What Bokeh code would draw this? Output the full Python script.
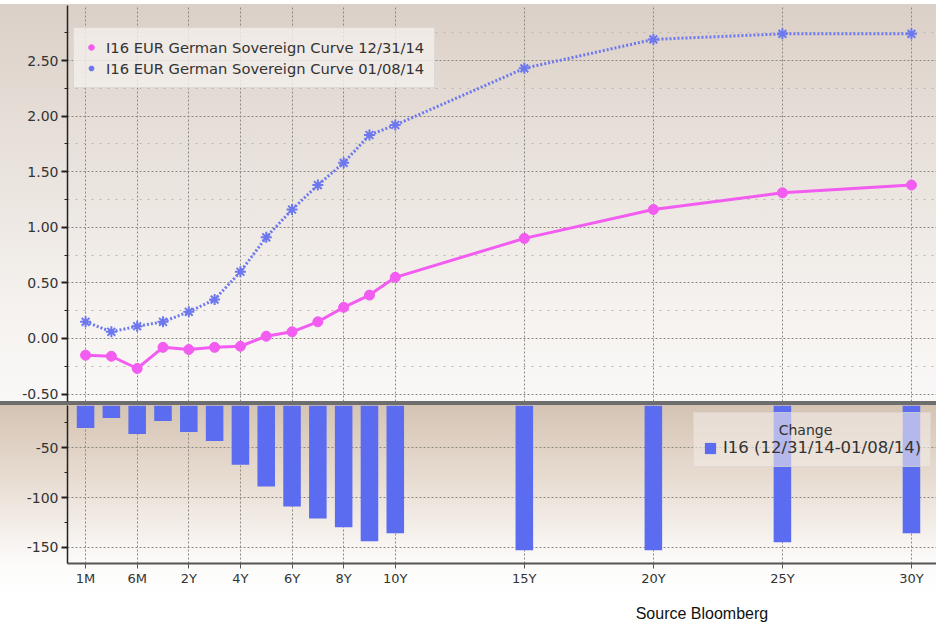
from bokeh.plotting import figure
from bokeh.models import (FixedTicker, NumeralTickFormatter, Range1d, Label,
                          ColumnDataSource)
from bokeh.layouts import column
from bokeh.embed import file_html
from bokeh.resources import INLINE

# ---------------- data ----------------
tenors = ["1M", "3M", "6M", "1Y", "2Y", "3Y", "4Y", "5Y", "6Y", "7Y", "8Y",
          "9Y", "10Y", "15Y", "20Y", "25Y", "30Y"]
curve_123114 = [-0.15, -0.16, -0.27, -0.08, -0.10, -0.08, -0.07, 0.02, 0.06,
                0.15, 0.28, 0.39, 0.55, 0.90, 1.16, 1.31, 1.38]
curve_010814 = [0.15, 0.06, 0.11, 0.15, 0.24, 0.35, 0.60, 0.91, 1.16, 1.38,
                1.58, 1.83, 1.92, 2.43, 2.69, 2.74, 2.74]
change_bp = [-30, -20, -36, -23, -34, -43, -67, -89, -109, -121, -130, -144,
             -136, -153, -153, -145, -136]
tick_labels = ["1M", "6M", "2Y", "4Y", "6Y", "8Y", "10Y", "15Y", "20Y", "25Y", "30Y"]

label_a = "I16 EUR German Sovereign Curve 12/31/14"
label_b = "I16 EUR German Sovereign Curve 01/08/14"
label_c = "I16 (12/31/14-01/08/14)"
change_title = "Change"
source_text = "Source Bloomberg"


# Bloomberg tenor axis: ordinal up to 10Y, then proportional to years
def tenor_pos(t):
    i = tenors.index(t)
    if i <= tenors.index("10Y"):
        return float(i)
    return float(tenors.index("10Y") + int(t[:-1]) - 10)


xpos = [tenor_pos(t) for t in tenors]
tick_pos = [tenor_pos(t) for t in tick_labels]

src = ColumnDataSource(dict(x=xpos, a=curve_123114, b=curve_010814, c=change_bp))

FONT = "DejaVu Sans"
TXT = "#333333"
MAGENTA = "#f25cf0"
BLUE_LINE = "#6e78ee"
BAR = "#5b6cf0"
GRID = "#8c8884"
MINOR = "#bdb7b1"

xr = Range1d(-0.70, 32.97)

# ---------------- top panel ----------------
p1 = figure(width=936, height=405, x_range=xr, y_range=Range1d(-0.567, 2.995),
            output_backend="svg", toolbar_location=None, x_axis_location=None,
            min_border_left=67, min_border_right=0, min_border_top=5,
            min_border_bottom=4)
p1.background_fill_color = None
p1.border_fill_color = None
p1.outline_line_color = None
p1.styles = {"background": "linear-gradient(to bottom, #ffffff 0px, #ffffff 4px, "
                           "#dbd0c7 4px, #e9e2dc 160px, "
                           "#f5f2ef 310px, #faf8f7 401px, #6d6d6d 401px, #6d6d6d 405px)"}

p1.line("x", "a", source=src, line_color=MAGENTA, line_width=3)
r_a = p1.scatter("x", "a", source=src, marker="circle", size=10,
                 fill_color=MAGENTA, line_color=MAGENTA, legend_label=label_a)
p1.line("x", "b", source=src, line_color=BLUE_LINE, line_width=3, line_dash="2 2")
r_b = p1.scatter("x", "b", source=src, marker="asterisk", size=11,
                 line_color=BLUE_LINE, line_width=2, legend_label=label_b)

ya = p1.yaxis[0]
ya.ticker = FixedTicker(ticks=[-0.5, 0, 0.5, 1.0, 1.5, 2.0, 2.5],
                        minor_ticks=[-0.25, 0.25, 0.75, 1.25, 1.75, 2.25, 2.75])
ya.formatter = NumeralTickFormatter(format="0.00")

p1.xgrid.ticker = FixedTicker(ticks=tick_pos)
p1.xgrid.grid_line_color = GRID
p1.xgrid.grid_line_dash = "2 2"
p1.ygrid.grid_line_color = GRID
p1.ygrid.grid_line_dash = "2 2"
p1.ygrid.minor_grid_line_color = MINOR
p1.ygrid.minor_grid_line_dash = "2 6"

lg = p1.legend[0]
lg.location = (6, 313)
lg.background_fill_color = "#f3efeb"
lg.background_fill_alpha = 0.8
lg.border_line_color = "#cbc6c1"
lg.label_text_font = FONT
lg.label_text_font_size = "14.7px"
lg.label_text_color = TXT
lg.glyph_width = 14
lg.glyph_height = 18
lg.label_height = 18
lg.label_standoff = 8
lg.padding = 10
lg.spacing = 3
lg.margin = 0

# ---------------- bottom panel ----------------
p2 = figure(width=936, height=190, x_range=xr, y_range=Range1d(-166.4, -7.4),
            output_backend="svg", toolbar_location=None,
            min_border_left=67, min_border_right=0, min_border_top=0,
            min_border_bottom=32)
p2.background_fill_color = None
p2.border_fill_color = None
p2.outline_line_color = None
p2.styles = {"background": "linear-gradient(to bottom, #d5c4b4 0px, #e7dbd0 70px, "
                           "#fcfbfa 158px, #ffffff 100%)"}

p2.vbar(x="x", top=0, bottom="c", width=0.68, source=src, fill_color=BAR,
        line_color=None, legend_label=label_c)

yb = p2.yaxis[0]
yb.ticker = FixedTicker(ticks=[-150, -100, -50], minor_ticks=[-125, -75, -25])
yb.formatter = NumeralTickFormatter(format="0")

xb = p2.xaxis[0]
xb.ticker = FixedTicker(ticks=tick_pos, minor_ticks=[])
xb.major_label_overrides = {p: l for p, l in zip(tick_pos, tick_labels)}

p2.xgrid.grid_line_color = GRID
p2.xgrid.grid_line_dash = "2 2"
p2.ygrid.grid_line_color = GRID
p2.ygrid.grid_line_dash = "2 2"

lg2 = p2.legend[0]
# non-breaking spaces push the legend title towards the centre of the box
lg2.title = "\u00a0" * 17 + change_title
lg2.title_text_font = FONT
lg2.title_text_font_size = "14px"
lg2.title_text_font_style = "normal"
lg2.title_text_color = TXT
lg2.title_standoff = 0
lg2.location = (626, 96)
lg2.background_fill_color = "#f1ebe6"
lg2.background_fill_alpha = 0.6
lg2.border_line_color = "#d2ccc6"
lg2.label_text_font = FONT
lg2.label_text_font_size = "16.5px"
lg2.label_text_color = TXT
lg2.glyph_width = 14
lg2.glyph_height = 14
lg2.label_height = 18
lg2.label_standoff = 6
lg2.padding = 9
lg2.margin = 0

for p in (p1, p2):
    for ax in p.yaxis:
        ax.axis_line_color = "#222222"
        ax.axis_line_width = 1.5
        ax.major_tick_out = 6
        ax.major_tick_in = 0
        ax.major_tick_line_width = 2
        ax.major_tick_line_color = "#222222"
        ax.minor_tick_out = 3
        ax.minor_tick_in = 0
        ax.minor_tick_line_color = "#222222"
        ax.major_label_standoff = 3
        ax.major_label_text_font = FONT
        ax.major_label_text_font_size = "14px"
        ax.major_label_text_color = TXT

xb.axis_line_color = "#555555"
xb.axis_line_width = 2
xb.major_tick_out = 5
xb.major_tick_in = 0
xb.major_tick_line_color = "#555555"
xb.major_label_standoff = 2
xb.major_label_text_font = FONT
xb.major_label_text_font_size = "13px"
xb.major_label_text_color = TXT

# ---------------- source note strip ----------------
p3 = figure(width=936, height=28, x_range=Range1d(0, 936), y_range=Range1d(0, 28),
            output_backend="svg", toolbar_location=None,
            x_axis_location=None, y_axis_location=None,
            min_border_left=0, min_border_right=0, min_border_top=0,
            min_border_bottom=0)
p3.grid.visible = False
p3.outline_line_color = None
p3.background_fill_color = None
p3.border_fill_color = None
p3.add_layout(Label(x=612, y=10, text=source_text, text_font="Liberation Sans",
                    text_font_size="16px", text_color="#111111",
                    text_baseline="middle", text_align="left"))

layout = column(p1, p2, p3, spacing=0)
open("out.html", "w").write(file_html(layout, INLINE))
